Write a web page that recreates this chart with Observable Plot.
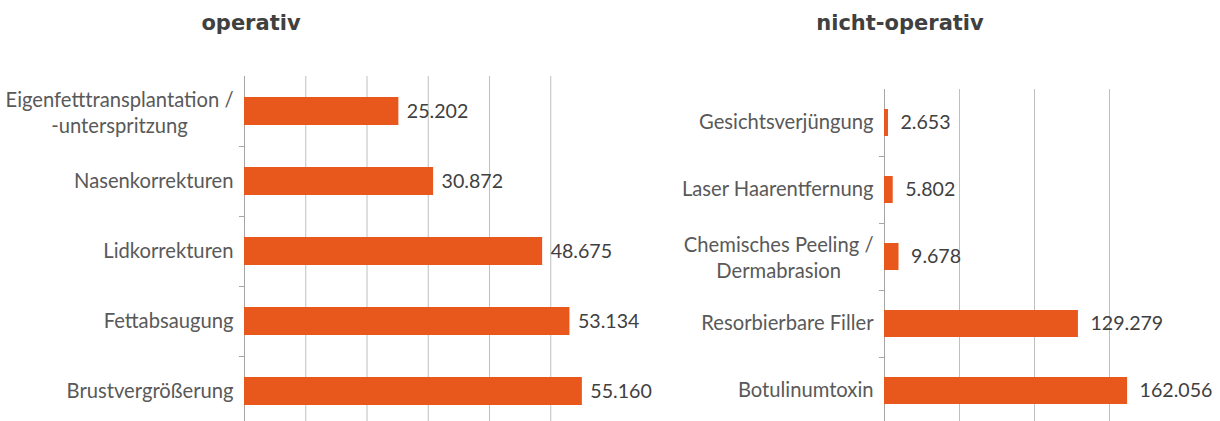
<!DOCTYPE html>
<html><head><meta charset="utf-8">
<script src="https://cdn.jsdelivr.net/npm/d3@7"></script>
<script src="https://cdn.jsdelivr.net/npm/@observablehq/plot@0.6"></script>
<style>
body{margin:0;background:#fff}
#wrap{position:relative;width:1220px;height:421px;overflow:hidden;background:#fff}
#wrap svg{position:absolute;left:0;top:0}
.title{position:absolute;top:11px;font:bold 21px "DejaVu Sans";line-height:24px;color:#404040;transform:translateX(-50%);white-space:nowrap}
</style></head><body><div id="wrap"></div>
<script>
// ---- data ----
const opTitle = "operativ";
const opCategories = ["Eigenfetttransplantation /\n-unterspritzung", "Nasenkorrekturen", "Lidkorrekturen", "Fettabsaugung", "Brustvergrößerung"];
const opValues = [25202, 30872, 48675, 53134, 55160];
const opGridTicks = [0, 10000, 20000, 30000, 40000, 50000];

const nopTitle = "nicht-operativ";
const nopCategories = ["Gesichtsverjüngung", "Laser Haarentfernung", "Chemisches Peeling /\nDermabrasion", "Resorbierbare Filler", "Botulinumtoxin"];
const nopValues = [2653, 5802, 9678, 129279, 162056];
const nopGridTicks = [0, 50000, 100000, 150000];

// ---- styling ----
const BAR = "#E8571C";
const GRID = "#BFBFBF";
const AXIS = "#A6A6A6";
const LABEL_FONT = "Lato";
const LABEL_SIZE = 20.2;
const VALUE_SIZE = 19.6;
const fmt = d3.formatLocale({decimal: ",", thousands: ".", grouping: [3], currency: ["", "€"]}).format(",");

const ctx = document.createElement("canvas").getContext("2d");
ctx.font = `${LABEL_SIZE}px ${LABEL_FONT}`;
const wrap = document.getElementById("wrap");

function panel({cats, vals, xMax, xRange, yRange, grid, title, titleX, labelGap, valueGap}) {
  const data = cats.map((c, i) => ({cat: c, value: vals[i]}));
  const step = (yRange[1] - yRange[0]) / cats.length;
  const single = data.filter(d => !d.cat.includes("\n"));
  const multi = data.filter(d => d.cat.includes("\n"));
  const multiMarks = multi.map(d => {
    const w = Math.max(...d.cat.split("\n").map(s => ctx.measureText(s).width));
    return Plot.text([d], {x: 0, y: "cat", text: "cat", textAnchor: "middle", dx: -(labelGap + w / 2),
      fontSize: LABEL_SIZE, fontFamily: LABEL_FONT, fill: "#595959", lineHeight: 1.28});
  });
  const chart = Plot.plot({
    width: 1220, height: 421,
    marginTop: yRange[0], marginBottom: 0, marginLeft: 0, marginRight: 0,
    style: {background: "transparent", overflow: "visible"},
    x: {domain: [0, xMax], range: xRange, axis: null},
    y: {domain: cats, range: yRange, paddingInner: 0.6, paddingOuter: 0.3, axis: null},
    marks: [
      Plot.ruleX(grid.slice(1), {stroke: GRID, strokeWidth: 1}),
      Plot.ruleX([0], {stroke: AXIS, strokeWidth: 1}),
      Plot.ruleY(cats.slice(1), {y: d => d, x1: 0, x2: 0, insetLeft: -5, dy: -step / 2, stroke: AXIS}),
      Plot.barX(data, {x: "value", y: "cat", fill: BAR}),
      Plot.text(data, {x: "value", y: "cat", text: d => fmt(d.value), dx: valueGap, textAnchor: "start",
        fontSize: VALUE_SIZE, fontFamily: LABEL_FONT, fill: "#404040"}),
      Plot.text(single, {x: 0, y: "cat", text: "cat", textAnchor: "end", dx: -labelGap,
        fontSize: LABEL_SIZE, fontFamily: LABEL_FONT, fill: "#595959"}),
      ...multiMarks
    ]
  });
  wrap.appendChild(chart);
  const t = document.createElement("div");
  t.className = "title";
  t.style.left = titleX + "px";
  t.textContent = title;
  wrap.appendChild(t);
}

panel({cats: opCategories, vals: opValues, xMax: 60000, xRange: [244, 611.5], yRange: [76, 426],
  grid: opGridTicks, title: opTitle, titleX: 251, labelGap: 11, valueGap: 8});
panel({cats: nopCategories, vals: nopValues, xMax: 200000, xRange: [884, 1184], yRange: [89, 424],
  grid: nopGridTicks, title: nopTitle, titleX: 900, labelGap: 11, valueGap: 12});
</script>
</body></html>
